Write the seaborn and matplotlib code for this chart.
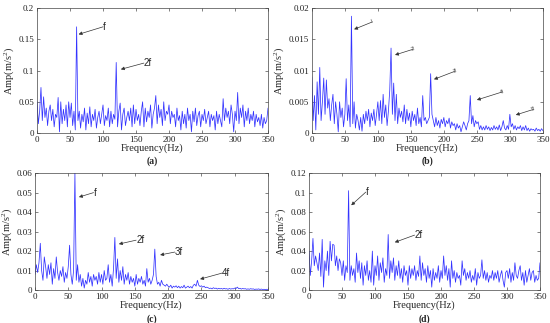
""" Amplitude spectra of the four vibration signals, panels (a)-(d) """

import numpy as np
import pandas as pd
import seaborn as sns
import matplotlib.pyplot as plt
from matplotlib.ticker import FormatStrFormatter

# Frequency grid (Hz), one reading every 2 Hz
freq = list(range(0, 351, 2))

# Panel (a), m/s^2
amp_a = [
    0.05, 0.015, 0.035, 0.073, 0.02, 0.058, 0.025, 0.04, 0.012, 0.035,
    0.045, 0.02, 0.038, 0.01, 0.03, 0.025, 0.057, 0.002, 0.05, 0.015,
    0.038, 0.02, 0.045, 0.01, 0.05, 0.025, 0.048, 0.012, 0.035, 0.005,
    0.17, 0.02, 0.035, 0.008, 0.03, 0.018, 0.04, 0.005, 0.032, 0.015,
    0.042, 0.01, 0.03, 0.02, 0.038, 0.008, 0.025, 0.035, 0.015, 0.03,
    0.045, 0.012, 0.028, 0.02, 0.04, 0.01, 0.035, 0.015, 0.03, 0.022,
    0.113, 0.01, 0.035, 0.048, 0.005, 0.03, 0.04, 0.012, 0.025, 0.035,
    0.02, 0.04, 0.01, 0.045, 0.015, 0.038, 0.02, 0.03, 0.012, 0.035,
    0.05, 0.01, 0.04, 0.018, 0.035, 0.025, 0.045, 0.008, 0.03, 0.04,
    0.06, 0.015, 0.045, 0.025, 0.038, 0.012, 0.05, 0.02, 0.035, 0.03,
    0.045, 0.015, 0.035, 0.025, 0.03, 0.01, 0.04, 0.02, 0.028, 0.005,
    0.035, 0.015, 0.03, 0.008, 0.04, 0.02, 0.03, 0.002, 0.035, 0.018,
    0.04, 0.012, 0.028, 0.035, 0.01, 0.03, 0.02, 0.038, 0.015, 0.025,
    0.035, 0.01, 0.03, 0.02, 0.028, 0.005, 0.035, 0.015, 0.03, 0.02,
    0.01, 0.055, 0.02, 0.04, 0.025, 0.035, 0.015, 0.045, 0.03, 0.002,
    0.035, 0.02, 0.065, 0.015, 0.04, 0.025, 0.045, 0.01, 0.035, 0.02,
    0.04, 0.015, 0.03, 0.02, 0.035, 0.01, 0.03, 0.018, 0.025, 0.012,
    0.03, 0.008, 0.025, 0.015, 0.02, 0.04,
]

# Panel (b), 1e-3 m/s^2
amp_b = [
    9.0, 2.0, 6.0, 0.5, 8.2, 3.0, 10.5, 2.0, 5.0, 8.8,
    3.0, 8.5, 4.0, 5.5, 2.0, 4.5, 6.2, 1.5, 5.0, 3.0,
    0.2, 5.0, 2.5, 4.0, 1.0, 3.0, 8.7, 2.0, 4.5, 1.0,
    18.7, 1.5, 5.0, 0.8, 3.0, 2.0, 0.5, 2.5, 0.3, 3.0,
    1.5, 3.5, 2.0, 3.8, 1.0, 3.2, 2.0, 3.8, 1.2, 3.0,
    5.0, 2.0, 5.2, 1.5, 6.2, 2.5, 4.5, 1.2, 3.5, 6.8,
    13.6, 3.0, 8.0, 2.0, 6.2, 1.5, 4.0, 2.5, 3.5, 1.8,
    4.5, 1.5, 3.8, 2.0, 3.2, 1.0, 3.5, 2.0, 3.0, 1.2,
    4.0, 1.5, 2.5, 1.0, 6.0, 2.0, 2.5, 1.5, 2.0, 2.5,
    9.5, 3.0, 2.0, 1.0, 2.5, 1.2, 2.0, 0.8, 2.2, 1.5,
    2.5, 1.0, 2.0, 1.5, 2.4, 0.8, 1.8, 1.2, 1.5, 0.5,
    1.5, 0.8, 1.2, 0.2, 1.0, 1.8, 1.2, 0.5, 1.5, 2.0,
    6.0, 1.5, 2.8, 1.0, 2.0, 1.5, 1.8, 0.6, 1.2, 0.5,
    1.0, 0.5, 1.2, 0.6, 1.0, 0.4, 0.9, 0.5, 1.2, 0.6,
    1.0, 0.5, 1.3, 0.4, 1.0, 2.0, 0.8, 0.5, 1.2, 0.6,
    3.0, 1.0, 1.5, 0.6, 1.2, 0.5, 1.0, 0.7, 1.2, 0.4,
    1.0, 0.5, 1.2, 0.4, 0.8, 0.3, 0.7, 0.5, 0.6, 0.3,
    0.8, 0.4, 0.6, 0.3, 0.7, 0.4,
]

# Panel (c), 1e-3 m/s^2
amp_c = [
    8.0, 13.0, 9.0, 14.0, 24.0, 10.0, 5.0, 17.0, 12.0, 6.0,
    13.0, 8.0, 14.0, 3.0, 11.0, 6.0, 17.0, 9.0, 5.0, 10.0,
    7.0, 12.0, 4.0, 9.0, 6.0, 12.0, 23.0, 8.0, 3.0, 10.0,
    60.0, 5.0, 13.0, 4.0, 8.0, 2.0, 6.0, 1.0, 5.0, 3.0,
    9.0, 4.0, 7.0, 2.0, 8.0, 5.0, 7.0, 3.0, 9.0, 4.0,
    8.0, 3.0, 10.0, 5.0, 6.0, 13.0, 4.0, 8.0, 2.0, 11.0,
    27.0, 6.0, 16.0, 4.0, 10.0, 5.0, 12.0, 3.0, 8.0, 5.0,
    9.0, 3.0, 7.0, 4.0, 6.0, 2.0, 8.0, 3.0, 6.0, 4.0,
    7.0, 3.0, 5.0, 2.0, 11.0, 4.0, 6.0, 3.0, 5.0, 8.0,
    21.0, 7.0, 3.0, 4.0, 2.0, 5.0, 3.0, 2.5, 2.0, 3.0,
    2.0, 1.5, 2.5, 1.0, 2.0, 1.5, 2.2, 1.2, 2.0, 1.0,
    1.8, 1.2, 2.5, 1.0, 1.5, 2.0, 1.2, 1.8, 1.0, 2.5,
    3.0, 2.0, 5.0, 2.5, 1.8, 2.2, 1.5, 2.0, 1.2, 1.5,
    1.2, 0.8, 1.0, 0.6, 1.2, 0.8, 1.0, 0.5, 0.9, 0.6,
    0.8, 0.5, 0.9, 0.6, 0.7, 0.4, 0.8, 0.5, 0.7, 0.6,
    1.0, 0.8, 1.5, 0.7, 0.9, 0.5, 0.8, 0.6, 0.7, 0.4,
    0.6, 0.4, 0.7, 0.5, 0.6, 0.3, 0.5, 0.4, 0.6, 0.3,
    0.5, 0.3, 0.4, 0.2, 0.4, 0.3,
]

# Panel (d), 1e-3 m/s^2
amp_d = [
    40.0, 15.0, 30.0, 53.0, 25.0, 35.0, 28.0, 20.0, 38.0, 14.0,
    52.0, 3.0, 30.0, 20.0, 40.0, 15.0, 50.0, 30.0, 47.0, 46.0,
    25.0, 35.0, 20.0, 32.0, 28.0, 15.0, 30.0, 10.0, 25.0, 18.0,
    102.0, 10.0, 25.0, 15.0, 22.0, 8.0, 38.0, 18.0, 30.0, 12.0,
    28.0, 5.0, 25.0, 15.0, 30.0, 10.0, 20.0, 8.0, 40.0, 5.0,
    25.0, 15.0, 35.0, 10.0, 28.0, 18.0, 33.0, 8.0, 22.0, 15.0,
    57.0, 12.0, 30.0, 18.0, 33.0, 10.0, 25.0, 15.0, 30.0, 12.0,
    22.0, 8.0, 25.0, 15.0, 20.0, 5.0, 25.0, 12.0, 22.0, 15.0,
    25.0, 10.0, 20.0, 14.0, 35.0, 10.0, 28.0, 15.0, 22.0, 8.0,
    25.0, 12.0, 20.0, 3.0, 22.0, 10.0, 18.0, 12.0, 25.0, 8.0,
    20.0, 12.0, 35.0, 15.0, 25.0, 10.0, 22.0, 3.0, 30.0, 12.0,
    20.0, 8.0, 18.0, 12.0, 15.0, 5.0, 30.0, 15.0, 22.0, 10.0,
    18.0, 12.0, 20.0, 8.0, 15.0, 10.0, 22.0, 5.0, 18.0, 12.0,
    15.0, 31.0, 12.0, 20.0, 10.0, 18.0, 8.0, 15.0, 12.0, 20.0,
    10.0, 18.0, 12.0, 20.0, 8.0, 15.0, 20.0, 10.0, 3.0, 18.0,
    20.0, 12.0, 22.0, 8.0, 18.0, 10.0, 28.0, 15.0, 12.0, 20.0,
    25.0, 10.0, 18.0, 5.0, 20.0, 8.0, 15.0, 22.0, 10.0, 18.0,
    20.0, 8.0, 15.0, 10.0, 12.0, 28.0,
]

# Harmonic labels: (text, tip x, tip y, text x, text y)
notes_a = [("f", 63, 0.158, 100, 0.170), ("2f", 127, 0.102, 162, 0.112)]
notes_b = [("f", 64, 0.0166, 92, 0.0178), ("2f", 126, 0.0125, 153, 0.0134),
           ("3f", 185, 0.0086, 217, 0.0099), ("4f", 250, 0.0053, 289, 0.0066),
           ("5f", 309, 0.0029, 336, 0.0038)]
notes_c = [("f", 66, 0.0477, 88, 0.050), ("2f", 126, 0.0236, 152, 0.0256),
           ("3f", 188, 0.018, 210, 0.0195), ("4f", 248, 0.0056, 281, 0.0087)]
notes_d = [("f", 64, 0.087, 86, 0.1005), ("2f", 130, 0.049, 160, 0.0564)]


def panel(fig, rect, amp, ymax, ystep, notes, tag, tag_y, small=False):
    """ One spectrum with box, inward ticks and arrow labels """
    ax = fig.add_axes(rect)
    df = pd.DataFrame({"Frequency": freq, "Amp": amp})
    sns.lineplot(x="Frequency", y="Amp", data=df, ax=ax, color="#3333ff",
                 lw=0.55, estimator=None)
    ax.set_xlim(0, 350)
    ax.set_ylim(0, ymax)
    ax.set_xticks(range(0, 351, 50))
    ax.set_yticks(np.arange(0, ymax + ystep / 2, ystep))
    ax.yaxis.set_major_formatter(FormatStrFormatter("%g"))
    ax.tick_params(direction="in", length=2, width=0.4, labelsize=6.5,
                   top=True, right=True, pad=2, colors="#222222")
    for s in ax.spines.values():
        s.set_linewidth(0.5)
        s.set_color("#444444")
    ax.set_xlabel("Frequency(Hz)", fontsize=7.5, labelpad=0)
    ax.set_ylabel("Amp(m/s$^{2}$)", fontsize=7.5, labelpad=2)
    for text, x, y, tx, ty in notes:
        ax.annotate("", xy=(x, y), xytext=(tx, ty),
                    arrowprops=dict(arrowstyle="-|>", color="#333333", lw=0.5,
                                    mutation_scale=5, shrinkA=0, shrinkB=0))
        if small:
            ax.text(tx, ty, text, fontsize=3.5, rotation=20, ha="center",
                    va="center", family="Liberation Sans", color="#555555")
        else:
            ax.text(tx, ty, text, fontsize=7, ha="left", va="center",
                    family="Liberation Sans")
    fig.text(rect[0] + rect[2] / 2, tag_y, tag, ha="center", va="center",
             fontsize=7, fontweight="bold")
    return ax


if __name__ == "__main__":
    sns.set_style("ticks")
    plt.rcParams["font.family"] = ["Liberation Serif", "DejaVu Serif"]
    plt.rcParams["mathtext.fontset"] = "custom"
    plt.rcParams["mathtext.rm"] = "Liberation Serif"
    plt.rcParams["mathtext.it"] = "Liberation Serif:italic"

    fig = plt.figure(figsize=(5.5, 3.23), dpi=100)
    b = [v / 1000 for v in amp_b]
    c = [v / 1000 for v in amp_c]
    d = [v / 1000 for v in amp_d]
    panel(fig, [0.0673, 0.588, 0.42, 0.387], amp_a, 0.2, 0.05, notes_a,
          "(a)", 0.502)
    panel(fig, [0.567, 0.588, 0.42, 0.387], b, 0.02, 0.005, notes_b,
          "(b)", 0.502, small=True)
    panel(fig, [0.0636, 0.102, 0.4236, 0.362], c, 0.06, 0.01, notes_c,
          "(c)", 0.012)
    panel(fig, [0.5618, 0.102, 0.42, 0.362], d, 0.12, 0.02, notes_d,
          "(d)", 0.012)
    fig.savefig("out.png", dpi=100)
